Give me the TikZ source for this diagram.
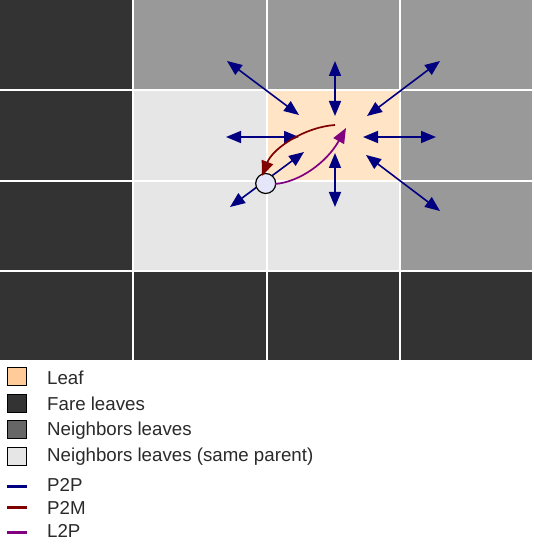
\documentclass[tikz,border=0pt]{standalone}
\usepackage{fontspec}
\setmainfont{Liberation Sans}
\usetikzlibrary{arrows.meta}
\definecolor{fare}{HTML}{333333}
\definecolor{neigh}{HTML}{999999}
\definecolor{neighleg}{HTML}{666666}
\definecolor{same}{HTML}{E6E6E6}
\definecolor{leaf}{HTML}{FFE4C6}
\definecolor{leafleg}{HTML}{FFCC99}
\definecolor{ptp}{HTML}{000080}
\definecolor{ptm}{HTML}{800000}
\definecolor{ltp}{HTML}{800080}
\definecolor{pt}{HTML}{E6E6FA}
\definecolor{txt}{HTML}{2A2A2A}
\tikzset{
  gridline/.style={white, line width=2pt},
  ptparrow/.style={ptp, line width=1.6pt, {Triangle[length=15pt,width=12pt]}-{Triangle[length=15pt,width=12pt]}},
  curvearrow/.style={line width=1.7pt, -{Triangle[length=15pt,width=12pt]}},
  legsq/.style={draw=black, line width=1pt, minimum width=19pt, minimum height=18pt, inner sep=0pt},
  legtxt/.style={anchor=base west, inner sep=0pt, text=txt, font=\fontsize{18.7}{22}\selectfont},
  legline/.style={line width=3pt},
}
\begin{document}
\begin{tikzpicture}[x=1pt,y=-1pt]
\useasboundingbox (0,0) rectangle (534,545);
\fill[white] (0,0) rectangle (534,545);
% grid cells
\fill[fare]  (0,0) rectangle (133.3,361);
\fill[neigh] (133.3,0) rectangle (533,90.5);
\fill[neigh] (400,90.5) rectangle (533,271);
\fill[same]  (133.3,90.5) rectangle (400,271);
\fill[leaf]  (266.7,90.5) rectangle (400,180.7);
\fill[fare]  (133.3,271) rectangle (533,361);
% grid lines
\draw[gridline] (133.3,0) -- (133.3,361);
\draw[gridline] (266.7,0) -- (266.7,361);
\draw[gridline] (400,0) -- (400,361);
\draw[gridline] (533,0) -- (533,361);
\draw[gridline] (0,90.5) -- (534,90.5);
\draw[gridline] (0,180.7) -- (534,180.7);
\draw[gridline] (0,271) -- (534,271);
\draw[gridline] (0,361) -- (534,361);
% arrow end points
\coordinate (a1o) at (227,61);  \coordinate (a1i) at (299,115);
\coordinate (a2o) at (335,61);  \coordinate (a2i) at (335,116);
\coordinate (a3o) at (440,61);  \coordinate (a3i) at (367,116);
\coordinate (a4o) at (226,137); \coordinate (a4i) at (299,137);
\coordinate (a5o) at (436,137); \coordinate (a5i) at (363,137);
\coordinate (a6o) at (335,207); \coordinate (a6i) at (335,153);
\coordinate (a7o) at (440,211); \coordinate (a7i) at (366,155);
\coordinate (a8o) at (230,207); \coordinate (a8i) at (304,152);
\draw[ptparrow] (a1o) -- (a1i);
\draw[ptparrow] (a2o) -- (a2i);
\draw[ptparrow] (a3o) -- (a3i);
\draw[ptparrow] (a4o) -- (a4i);
\draw[ptparrow] (a5o) -- (a5i);
\draw[ptparrow] (a6o) -- (a6i);
\draw[ptparrow] (a7o) -- (a7i);
\draw[ptparrow] (a8o) -- (a8i);
% particle
\node[circle, draw=black, fill=pt, line width=1.2pt, minimum size=20pt, inner sep=0pt] (p) at (265.7,183.5) {};
% P2M and L2P
\coordinate (m1) at (335,125);
\coordinate (m2) at (262,176);
\draw[curvearrow, ptm] (m1) .. controls (305,127) and (273,148) .. (m2);
\coordinate (l1) at (275,184);
\coordinate (l2) at (346,128);
\draw[curvearrow, ltp] (l1) .. controls (300,182) and (327,162) .. (l2);
% legend
\node[legsq, fill=leafleg, anchor=north west] (s1) at (7,367) {};
\node[legsq, fill=fare, anchor=north west] (s2) at (7,393.5) {};
\node[legsq, fill=neighleg, anchor=north west] (s3) at (7,419.5) {};
\node[legsq, fill=same, anchor=north west] (s4) at (7,446.5) {};
\node[legtxt] (t1) at (47,384) {Leaf};
\node[legtxt] (t2) at (47,410.7) {Fare leaves};
\node[legtxt] (t3) at (47,435) {Neighbors leaves};
\node[legtxt] (t4) at (47,461) {Neighbors leaves (same parent)};
\node[legtxt] (t5) at (47,491.7) {P2P};
\node[legtxt] (t6) at (47,514) {P2M};
\node[legtxt] (t7) at (47,537.3) {L2P};
\coordinate (k1a) at (7,486);   \coordinate (k1b) at (27,486);
\coordinate (k2a) at (7,507.5); \coordinate (k2b) at (27,507.5);
\coordinate (k3a) at (7,532);   \coordinate (k3b) at (27,532);
\draw[legline, ptp] (k1a) -- (k1b);
\draw[legline, ptm] (k2a) -- (k2b);
\draw[legline, ltp] (k3a) -- (k3b);
\end{tikzpicture}
\end{document}
